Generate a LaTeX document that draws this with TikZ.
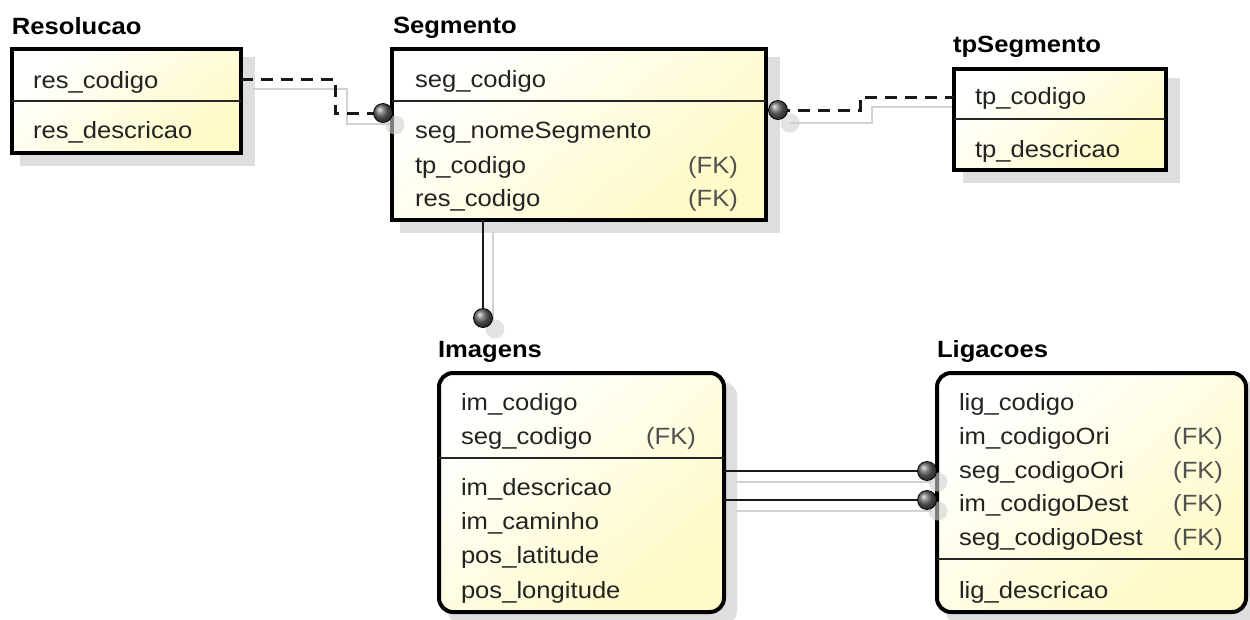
\documentclass[tikz,border=0pt]{standalone}
\usepackage{fontspec}
\setmainfont[FakeStretch=1.09]{Liberation Sans}
\usetikzlibrary{calc}
\definecolor{yel}{RGB}{255,250,198}
\definecolor{shd}{RGB}{222,222,222}
\definecolor{txt}{RGB}{35,35,35}
\definecolor{fkc}{RGB}{80,80,80}
\definecolor{lnk}{RGB}{210,210,210}
\begin{document}
\begin{tikzpicture}[x=1pt,y=-1pt,
  every node/.style={font=\fontsize{23.5}{28}\selectfont, inner sep=0pt, outer sep=0pt},
  ent/.style={draw=black, line width=4pt, top color=white, bottom color=yel, shading angle=40, anchor=north west},
  rent/.style={ent, rounded corners=14pt},
  title/.style={anchor=base west, font=\fontsize{23.5}{28}\selectfont\bfseries, text=black},
  row/.style={anchor=base west, text=txt},
  fk/.style={anchor=base east, text=fkc},
  divider/.style={draw=black!85, line width=2pt},
  shadow/.style={fill=shd},
  dashlink/.style={draw=black!90, line width=3pt, dash pattern=on 12pt off 8pt},
  solidlink/.style={draw=black!90, line width=2.8pt},
  shlink/.style={draw=lnk, line width=2pt},
  ballnode/.style={circle, minimum size=19pt, shading=ball, ball color=black!60, draw=black, line width=0.8pt},
  shball/.style={circle, minimum size=19pt, fill=black!18, opacity=0.6}
]
\useasboundingbox (0,0) rectangle (1250,619);

% shadows
\fill[shadow] (20,57) rectangle (255,166);
\fill[shadow] (400,57) rectangle (780,233);
\fill[shadow] (963,78) rectangle (1180,183);
\fill[shadow, rounded corners=14pt] (448,382) rectangle (737,625);
\fill[shadow, rounded corners=14pt] (946,381) rectangle (1259,625);

% ---- connector shadows ----
\draw[shlink] (252,89) -- (347,89) -- (347,124) -- (390,124);
\draw[shlink] (790,123) -- (872,123) -- (872,107) -- (967,107);
\draw[shlink] (493,232) -- (493,322);
\draw[shlink] (736,482) -- (932,482);
\draw[shlink] (736,511) -- (932,511);

% ---- boxes ----
\node[ent, minimum width=229pt, minimum height=104pt] (res) at (12,49) {};
\node[ent, minimum width=374pt, minimum height=171pt] (seg) at (392,49) {};
\node[ent, minimum width=212pt, minimum height=101pt] (tps) at (954,69) {};
\node[rent, minimum width=285pt, minimum height=239pt] (img) at (439,373) {};
\node[rent, minimum width=309pt, minimum height=239pt] (lig) at (937,373) {};

% dividers
\draw[divider] (res.west |- 0,101) -- (res.east |- 0,101);
\draw[divider] (seg.west |- 0,101) -- (seg.east |- 0,101);
\draw[divider] (tps.west |- 0,119) -- (tps.east |- 0,119);
\draw[divider] (img.west |- 0,458) -- (img.east |- 0,458);
\draw[divider] (lig.west |- 0,559) -- (lig.east |- 0,559);

% ---- titles ----
\node[title] (tres) at (12,34) {Resolucao};
\node[title] (tseg) at (393,33) {Segmento};
\node[title] (ttps) at (953,52) {tpSegmento};
\node[title] (timg) at (438,357) {Imagens};
\node[title] (tlig) at (937,357) {Ligacoes};

% ---- rows ----
\node[row] (res1) at (33,88) {res\_codigo};
\node[row] (res2) at (33,138) {res\_descricao};

\node[row] (seg1) at (415,87) {seg\_codigo};
\node[row] (seg2) at (415,138) {seg\_nomeSegmento};
\node[row] (seg3) at (415,173) {tp\_codigo};
\node[row] (seg4) at (415,206) {res\_codigo};
\node[fk] (segf3) at (738,173) {(FK)};
\node[fk] (segf4) at (738,206) {(FK)};

\node[row] (tps1) at (975,104) {tp\_codigo};
\node[row] (tps2) at (975,157) {tp\_descricao};

\node[row] (img1) at (461,410) {im\_codigo};
\node[row] (img2) at (461,444) {seg\_codigo};
\node[fk] (imgf2) at (696,444) {(FK)};
\node[row] (img3) at (461,495) {im\_descricao};
\node[row] (img4) at (461,529) {im\_caminho};
\node[row] (img5) at (461,563) {pos\_latitude};
\node[row] (img6) at (461,598) {pos\_longitude};

\node[row] (lig1) at (959,410) {lig\_codigo};
\node[row] (lig2) at (959,444) {im\_codigoOri};
\node[row] (lig3) at (959,478) {seg\_codigoOri};
\node[row] (lig4) at (959,511) {im\_codigoDest};
\node[row] (lig5) at (959,545) {seg\_codigoDest};
\node[row] (lig6) at (959,598) {lig\_descricao};
\node[fk] (ligf2) at (1223,444) {(FK)};
\node[fk] (ligf3) at (1223,478) {(FK)};
\node[fk] (ligf4) at (1223,511) {(FK)};
\node[fk] (ligf5) at (1223,545) {(FK)};

% ---- connector end ball shadows ----
\node[shball] (sk1) at (395,125) {};
\node[shball] (sk2) at (790,123) {};
\node[shball] (sk3) at (495,329) {};
\node[shball] (sk4) at (938,482) {};
\node[shball] (sk5) at (938,511) {};

% ---- connectors ----
\coordinate (k1) at (383,113);
\coordinate (k2) at (778,110);
\coordinate (k3) at (483,318);
\coordinate (k4) at (927,471);
\coordinate (k5) at (927,500);
\coordinate (a1) at (335,79);
\coordinate (a2) at (335,113);
\draw[dashlink] (res.east |- a1) -- (a1) -- (a2) -- (k1);
\coordinate (b1) at (860,110);
\coordinate (b2) at (860,97);
\draw[dashlink] (k2) -- (b1) -- (b2) -- (tps.west |- b2);
\draw[solidlink] (seg.south -| k3) -- (k3);
\draw[solidlink] (img.east |- k4) -- (k4);
\draw[solidlink] (img.east |- k5) -- (k5);

% ---- connector end balls ----
\node[ballnode] (e1) at (k1) {};
\node[ballnode] (e2) at (k2) {};
\node[ballnode] (e3) at (k3) {};
\node[ballnode] (e4) at (k4) {};
\node[ballnode] (e5) at (k5) {};
\end{tikzpicture}
\end{document}
